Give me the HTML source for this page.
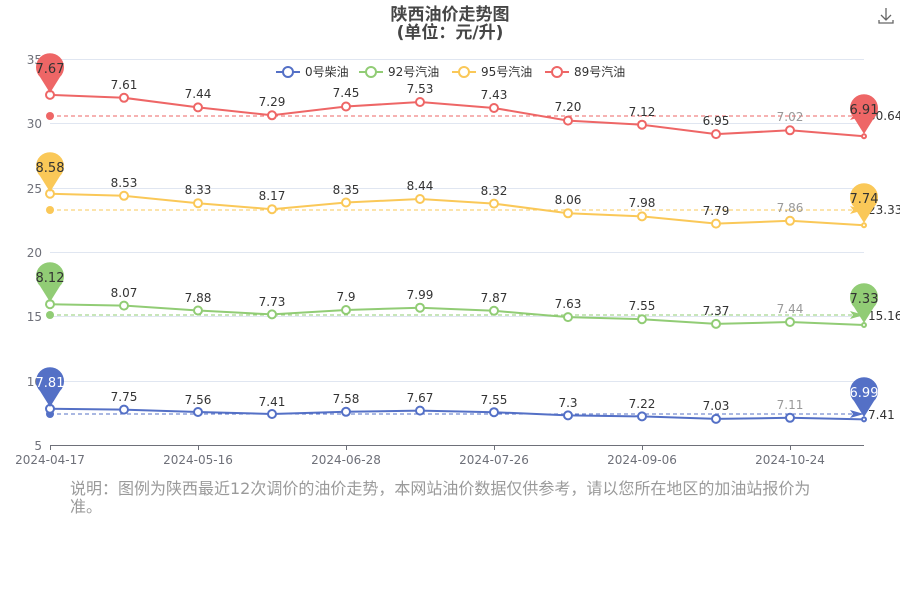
<!DOCTYPE html>
<html><head><meta charset="utf-8"><style>
body{margin:0;background:#fff;width:900px;height:600px;overflow:hidden}
svg{font-family:"DejaVu Sans","Noto Sans CJK SC",sans-serif}
</style></head><body>
<svg width="900" height="600" xmlns="http://www.w3.org/2000/svg">
<text x="450" y="20" text-anchor="middle" font-size="17" font-weight="bold" fill="#464646">陕西油价走势图</text>
<text x="450" y="38" text-anchor="middle" font-size="17" font-weight="bold" fill="#464646">(单位：元/升)</text>
<g stroke="#666" stroke-width="1.3" fill="none"><path d="M886 8v12M881 15l5 5 5-5M879 20v3h14v-3"/></g>
<g stroke="#e0e6f1" stroke-width="1">
<line x1="50" x2="864" y1="59.5" y2="59.5"/><line x1="50" x2="864" y1="123.5" y2="123.5"/><line x1="50" x2="864" y1="188.5" y2="188.5"/><line x1="50" x2="864" y1="252.5" y2="252.5"/><line x1="50" x2="864" y1="316.5" y2="316.5"/><line x1="50" x2="864" y1="381.5" y2="381.5"/>
</g>
<g fill="#6e7079" font-size="12" text-anchor="end">
<text x="42" y="64">35</text><text x="42" y="128">30</text><text x="42" y="193">25</text><text x="42" y="257">20</text><text x="42" y="321">15</text><text x="42" y="386">10</text><text x="42" y="450">5</text>
</g>
<g stroke="#6e7079"><line x1="50" x2="864" y1="445.5" y2="445.5"/>
<line x1="50.5" x2="50.5" y1="445" y2="450"/><line x1="198.5" x2="198.5" y1="445" y2="450"/><line x1="346.5" x2="346.5" y1="445" y2="450"/><line x1="494.5" x2="494.5" y1="445" y2="450"/><line x1="642.5" x2="642.5" y1="445" y2="450"/><line x1="790.5" x2="790.5" y1="445" y2="450"/></g>
<g fill="#6e7079" font-size="12" text-anchor="middle">
<text x="50" y="464">2024-04-17</text><text x="198" y="464">2024-05-16</text><text x="346" y="464">2024-06-28</text><text x="494" y="464">2024-07-26</text><text x="642" y="464">2024-09-06</text><text x="790" y="464">2024-10-24</text>
</g>
<g font-size="12" fill="#333">
<line x1="276" x2="300" y1="72" y2="72" stroke="#5470c6" stroke-width="2"/><circle cx="288" cy="72" r="5" fill="#fff" stroke="#5470c6" stroke-width="2"/><text x="305" y="76">0号柴油</text>
<line x1="359" x2="383" y1="72" y2="72" stroke="#91cc75" stroke-width="2"/><circle cx="371" cy="72" r="5" fill="#fff" stroke="#91cc75" stroke-width="2"/><text x="388" y="76">92号汽油</text>
<line x1="452" x2="476" y1="72" y2="72" stroke="#fac858" stroke-width="2"/><circle cx="464" cy="72" r="5" fill="#fff" stroke="#fac858" stroke-width="2"/><text x="481" y="76">95号汽油</text>
<line x1="545" x2="569" y1="72" y2="72" stroke="#ee6666" stroke-width="2"/><circle cx="557" cy="72" r="5" fill="#fff" stroke="#ee6666" stroke-width="2"/><text x="574" y="76">89号汽油</text>
</g>
<g stroke-dasharray="4,3" stroke-width="1">
<line x1="50" x2="858" y1="414" y2="414" stroke="#5470c6"/>
<line x1="50" x2="858" y1="315" y2="315" stroke="#91cc75"/>
<line x1="50" x2="858" y1="210" y2="210" stroke="#fac858"/>
<line x1="50" x2="858" y1="116" y2="116" stroke="#ee6666"/>
</g>
<circle cx="50" cy="414" r="4" fill="#5470c6"/><circle cx="50" cy="315" r="4" fill="#91cc75"/><circle cx="50" cy="210" r="4" fill="#fac858"/><circle cx="50" cy="116" r="4" fill="#ee6666"/>
<path d="M850 410l14 4-14 4 3-4z" fill="#5470c6"/><path d="M850 311l14 4-14 4 3-4z" fill="#91cc75"/><path d="M850 206l14 4-14 4 3-4z" fill="#fac858"/><path d="M850 112l14 4-14 4 3-4z" fill="#ee6666"/>
<g font-size="12" fill="#333">
<text x="868" y="419">7.41</text><text x="868" y="320">15.16</text><text x="868" y="214">23.33</text><text x="868" y="120">30.64</text>
</g>
<g fill="none" stroke-width="2">
<polyline stroke="#5470c6" points="50,408.8 124,409.6 198,412 272,414 346,411.8 420,410.6 494,412.2 568,415.4 642,416.4 716,418.9 790,417.8 864,419.4"/>
<polyline stroke="#91cc75" points="50,304.2 124,305.6 198,310.5 272,314.4 346,310 420,307.7 494,310.8 568,317.1 642,319.2 716,323.9 790,322 864,325"/>
<polyline stroke="#fac858" points="50,193.7 124,195.8 198,203.2 272,209.2 346,202.5 420,199 494,203.6 568,213.3 642,216.4 716,223.6 790,220.8 864,225.3"/>
<polyline stroke="#ee6666" points="50,94.9 124,97.8 198,107.4 272,115.3 346,106.5 420,102 494,108 568,120.6 642,124.7 716,134.1 790,130.3 864,136.3"/>
</g>
<g fill="#fff" stroke-width="2">
<g stroke="#5470c6"><circle cx="50" cy="408.8" r="4"/><circle cx="124" cy="409.6" r="4"/><circle cx="198" cy="412" r="4"/><circle cx="272" cy="414" r="4"/><circle cx="346" cy="411.8" r="4"/><circle cx="420" cy="410.6" r="4"/><circle cx="494" cy="412.2" r="4"/><circle cx="568" cy="415.4" r="4"/><circle cx="642" cy="416.4" r="4"/><circle cx="716" cy="418.9" r="4"/><circle cx="790" cy="417.8" r="4"/><circle cx="864" cy="419.4" r="2"/></g>
<g stroke="#91cc75"><circle cx="50" cy="304.2" r="4"/><circle cx="124" cy="305.6" r="4"/><circle cx="198" cy="310.5" r="4"/><circle cx="272" cy="314.4" r="4"/><circle cx="346" cy="310" r="4"/><circle cx="420" cy="307.7" r="4"/><circle cx="494" cy="310.8" r="4"/><circle cx="568" cy="317.1" r="4"/><circle cx="642" cy="319.2" r="4"/><circle cx="716" cy="323.9" r="4"/><circle cx="790" cy="322" r="4"/><circle cx="864" cy="325" r="2"/></g>
<g stroke="#fac858"><circle cx="50" cy="193.7" r="4"/><circle cx="124" cy="195.8" r="4"/><circle cx="198" cy="203.2" r="4"/><circle cx="272" cy="209.2" r="4"/><circle cx="346" cy="202.5" r="4"/><circle cx="420" cy="199" r="4"/><circle cx="494" cy="203.6" r="4"/><circle cx="568" cy="213.3" r="4"/><circle cx="642" cy="216.4" r="4"/><circle cx="716" cy="223.6" r="4"/><circle cx="790" cy="220.8" r="4"/><circle cx="864" cy="225.3" r="2"/></g>
<g stroke="#ee6666"><circle cx="50" cy="94.9" r="4"/><circle cx="124" cy="97.8" r="4"/><circle cx="198" cy="107.4" r="4"/><circle cx="272" cy="115.3" r="4"/><circle cx="346" cy="106.5" r="4"/><circle cx="420" cy="102" r="4"/><circle cx="494" cy="108" r="4"/><circle cx="568" cy="120.6" r="4"/><circle cx="642" cy="124.7" r="4"/><circle cx="716" cy="134.1" r="4"/><circle cx="790" cy="130.3" r="4"/><circle cx="864" cy="136.3" r="2"/></g>
</g>
<g font-size="12" fill="#333" text-anchor="middle">
<text x="124" y="401">7.75</text><text x="198" y="404">7.56</text><text x="272" y="406">7.41</text><text x="346" y="403">7.58</text><text x="420" y="402">7.67</text><text x="494" y="404">7.55</text><text x="568" y="407">7.3</text><text x="642" y="408">7.22</text><text x="716" y="410">7.03</text><text x="790" y="409" fill="#999">7.11</text>
<text x="124" y="297">8.07</text><text x="198" y="302">7.88</text><text x="272" y="306">7.73</text><text x="346" y="301">7.9</text><text x="420" y="299">7.99</text><text x="494" y="302">7.87</text><text x="568" y="308">7.63</text><text x="642" y="310">7.55</text><text x="716" y="315">7.37</text><text x="790" y="313" fill="#999">7.44</text>
<text x="124" y="187">8.53</text><text x="198" y="194">8.33</text><text x="272" y="200">8.17</text><text x="346" y="194">8.35</text><text x="420" y="190">8.44</text><text x="494" y="195">8.32</text><text x="568" y="204">8.06</text><text x="642" y="207">7.98</text><text x="716" y="215">7.79</text><text x="790" y="212" fill="#999">7.86</text>
<text x="124" y="89">7.61</text><text x="198" y="98">7.44</text><text x="272" y="106">7.29</text><text x="346" y="97">7.45</text><text x="420" y="93">7.53</text><text x="494" y="99">7.43</text><text x="568" y="111">7.20</text><text x="642" y="116">7.12</text><text x="716" y="125">6.95</text><text x="790" y="121" fill="#999">7.02</text>
</g>
<g font-size="13" text-anchor="middle">
<path d="M50 407 L40 391 A14 14 0 1 1 60 391 Z" fill="#5470c6"/><text x="50" y="387" fill="#fff">7.81</text>
<path d="M864 417 L854 401 A14 14 0 1 1 874 401 Z" fill="#5470c6"/><text x="864" y="397" fill="#fff">6.99</text>
<path d="M50 302 L40 286 A14 14 0 1 1 60 286 Z" fill="#91cc75"/><text x="50" y="282" fill="#333">8.12</text>
<path d="M864 323 L854 307 A14 14 0 1 1 874 307 Z" fill="#91cc75"/><text x="864" y="303" fill="#333">7.33</text>
<path d="M50 192 L40 176 A14 14 0 1 1 60 176 Z" fill="#fac858"/><text x="50" y="172" fill="#333">8.58</text>
<path d="M864 223 L854 207 A14 14 0 1 1 874 207 Z" fill="#fac858"/><text x="864" y="203" fill="#333">7.74</text>
<path d="M50 93 L40 77 A14 14 0 1 1 60 77 Z" fill="#ee6666"/><text x="50" y="73" fill="#333">7.67</text>
<path d="M864 134 L854 118 A14 14 0 1 1 874 118 Z" fill="#ee6666"/><text x="864" y="114" fill="#333">6.91</text>
</g>
<text x="70" y="494" font-size="16" fill="#9a9a9a">说明：图例为陕西最近12次调价的油价走势，本网站油价数据仅供参考，请以您所在地区的加油站报价为</text>
<text x="70" y="512" font-size="16" fill="#9a9a9a">准。</text>
</svg>
</body></html>
